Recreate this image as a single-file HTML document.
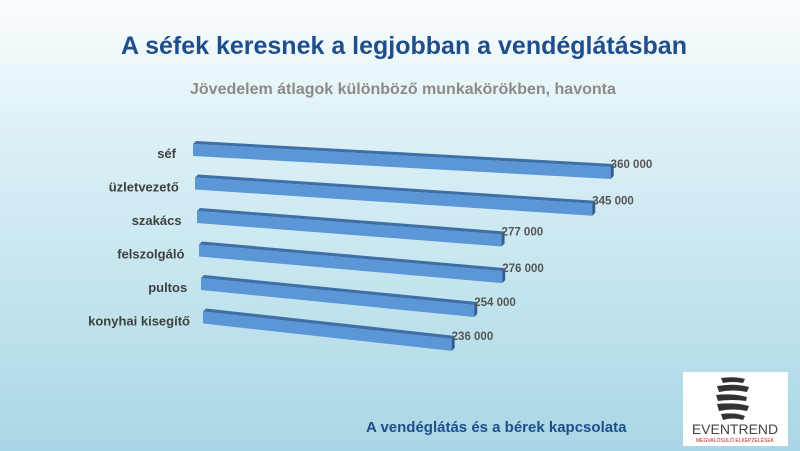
<!DOCTYPE html>
<html><head><meta charset="utf-8"><style>
body{margin:0}
#root{position:relative;width:800px;height:451px;overflow:hidden;background:linear-gradient(180deg,#fbfdfe 0%,#dcf0f6 30%,#c3e4ee 65%,#a9d6e5 100%);font-family:"Liberation Sans",sans-serif}
.t{position:absolute;white-space:nowrap}
</style></head><body>
<div id="root">
<div class="t" style="left:0;width:808px;text-align:center;top:32px;font-size:25px;font-weight:bold;color:#1f4e8c">A séfek keresnek a legjobban a vendéglátásban</div>
<div class="t" style="left:190px;top:81px;font-size:16px;font-weight:bold;color:#8a8a8a">Jövedelem átlagok különböző munkakörökben, havonta</div>
<svg id="chart" width="800" height="451" style="position:absolute;left:0;top:0"></svg>
<div class="t" style="left:366px;top:419px;font-size:15px;font-weight:bold;color:#1f4e8c">A vendéglátás és a bérek kapcsolata</div>
<div style="position:absolute;left:683px;top:372px;width:105px;height:74px;background:#fff">
<svg width="105" height="74" style="position:absolute;left:0;top:0">
<path d="M38 6 Q52 4 62 7 L60 11 Q50 9 40 11Z" fill="#333"/>
<path d="M34 14 Q52 11 66 15 L64 20 Q50 17 36 20Z" fill="#333"/>
<path d="M33 23 Q50 21 64 25 L63 29 Q49 27 35 29Z" fill="#333"/>
<path d="M34 32 Q52 30 66 34 L64 39 Q50 36 36 39Z" fill="#333"/>
<path d="M38 42 Q52 40 62 44 L60 48 Q50 45 40 48Z" fill="#333"/>
<text x="52" y="62" text-anchor="middle" font-size="14" fill="#444" font-family="Liberation Sans">EVENTREND</text>
<text x="52" y="70" text-anchor="middle" font-size="5" fill="#c22" font-family="Liberation Sans">MEGVALÓSULÓ ELKÉPZELÉSEK</text>
</svg></div>
</div>
<script>
const categories=["séf","üzletvezető","szakács","felszolgáló","pultos","konyhai kisegítő"];
const values=[360000,345000,277000,276000,254000,236000];
const valueLabels=["360 000","345 000","277 000","276 000","254 000","236 000"];
const svg=document.getElementById('chart');
const NS='http://www.w3.org/2000/svg';
function xLen(v){return v/1000*1.363-73;}
function rowX(i){return 193+i*2;}
function rowY(i){return 144+i*33.5;}
function slope(i){return 0.055+i*0.011;}
categories.forEach((c,i)=>{
  const x0=rowX(i),y0=rowY(i),L=xLen(values[i]),s=slope(i),x1=x0+L,y1=y0+s*L,h=12,d=3;
  const g=document.createElementNS(NS,'g');
  
  
  const top=document.createElementNS(NS,'polygon');
  top.setAttribute('points',`${x0},${y0} ${x0+3},${y0-d} ${x1+3},${y1-d} ${x1},${y1}`);
  top.setAttribute('fill','#3f6fa8');g.appendChild(top);
  const front=document.createElementNS(NS,'polygon');
  front.setAttribute('points',`${x0},${y0} ${x1},${y1} ${x1},${y1+h} ${x0},${y0+h}`);
  front.setAttribute('fill','#5b96d6');g.appendChild(front);
  const side=document.createElementNS(NS,'polygon');
  side.setAttribute('points',`${x1},${y1} ${x1+3},${y1-d} ${x1+3},${y1+h-d} ${x1},${y1+h}`);
  side.setAttribute('fill','#2f5e95');g.appendChild(side);
  svg.appendChild(g);
  const lab=document.createElementNS(NS,'text');
  
  
  lab.setAttribute('x',176+i*2.8);lab.setAttribute('y',y0+14);
  lab.setAttribute('text-anchor','end');lab.setAttribute('font-size','13');lab.setAttribute('font-weight','bold');
  lab.setAttribute('fill','#404040');lab.setAttribute('font-family','Liberation Sans');
  lab.textContent=c;svg.appendChild(lab);
  const vl=document.createElementNS(NS,'text');
  
  
  vl.setAttribute('x',x1);vl.setAttribute('y',y1+1);
  vl.setAttribute('font-size','11.5');vl.setAttribute('font-weight','bold');vl.setAttribute('fill','#555');
  vl.setAttribute('font-family','Liberation Sans');
  vl.textContent=valueLabels[i];svg.appendChild(vl);
});
</script>
</body></html>
